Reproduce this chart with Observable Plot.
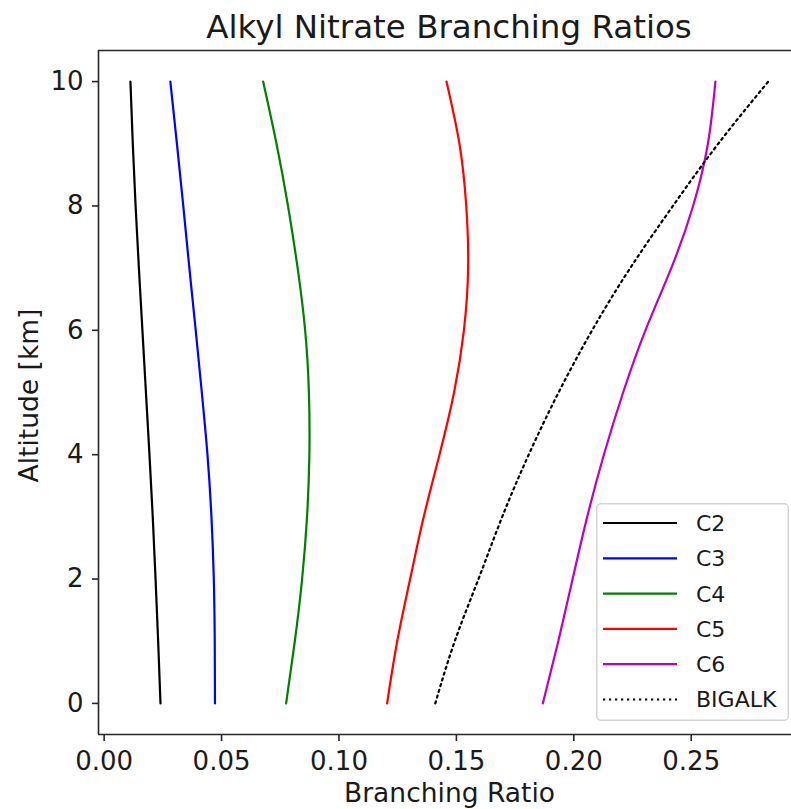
<!DOCTYPE html>
<html>
<head>
<meta charset="utf-8">
<script src="https://cdn.jsdelivr.net/npm/d3@7"></script>
<script src="https://cdn.jsdelivr.net/npm/@observablehq/plot@0.6"></script>
<style>
  html, body { margin: 0; padding: 0; background: #fff; }
  #wrap { position: relative; width: 791px; height: 809px; overflow: hidden; font-family: "DejaVu Sans", sans-serif; }
  #title { position: absolute; left: 98px; width: 702px; top: 11px; text-align: center; font-size: 32.5px; line-height: 1; color: #1a1a1a; white-space: nowrap; }
  #legend { position: absolute; left: 596px; top: 503px; }
</style>
</head>
<body>
<div id="wrap">
  <div id="chart"></div>
  <div id="title">Alkyl Nitrate Branching Ratios</div>
  <div id="legend"></div>
</div>
<script>
// ---- data ----
const altitude = [0, 1, 2, 3, 4, 5, 6, 7, 8, 9, 10];
const seriesNames = ["C2", "C3", "C4", "C5", "C6", "BIGALK"];
const seriesColors = ["#000000", "#0000ff", "#008000", "#ff0000", "#bf00bf", "#000000"];
const c2 = [0.0240, 0.0230, 0.0219, 0.0207, 0.0193, 0.0178, 0.0163, 0.0148, 0.0134, 0.0122, 0.0112];
const c3 = [0.0472, 0.0471, 0.0467, 0.0457, 0.0440, 0.0416, 0.0390, 0.0363, 0.0337, 0.0310, 0.0282];
const c4 = [0.0775, 0.0812, 0.0843, 0.0864, 0.0874, 0.0872, 0.0856, 0.0824, 0.0783, 0.0734, 0.0677];
const c5 = [0.1205, 0.1248, 0.1303, 0.1361, 0.1428, 0.1490, 0.1532, 0.1550, 0.1542, 0.1513, 0.1458];
const c6 = [0.1868, 0.1934, 0.1995, 0.2057, 0.2128, 0.2210, 0.2305, 0.2415, 0.2508, 0.2571, 0.2603];
const bigalk = [0.1410, 0.1493, 0.1594, 0.1695, 0.1808, 0.1935, 0.2078, 0.2240, 0.2422, 0.2615, 0.2828];
const xTicks = [0.00, 0.05, 0.10, 0.15, 0.20, 0.25];
const yTicks = [0, 2, 4, 6, 8, 10];
const xDomain = [-0.0024, 0.2927];
const yDomain = [-0.5, 10.5];

// ---- build table ----
const allValues = [c2, c3, c4, c5, c6, bigalk];
const rows = [];
seriesNames.forEach((name, i) => {
  altitude.forEach((a, j) => rows.push({series: name, alt: a, ratio: allValues[i][j]}));
});
const solid = rows.filter(d => d.series !== "BIGALK");
const dotted = rows.filter(d => d.series === "BIGALK");

const ink = "#262626";
const chart = Plot.plot({
  width: 791,
  height: 809,
  marginLeft: 98,
  marginRight: 0,
  marginTop: 50,
  marginBottom: 75,
  style: {fontFamily: '"DejaVu Sans", sans-serif', background: "white", color: "#1a1a1a"},
  x: {domain: xDomain},
  y: {domain: yDomain},
  color: {domain: seriesNames, range: seriesColors},
  marks: [
    Plot.line(solid, {x: "ratio", y: "alt", z: "series", stroke: "series", strokeWidth: 2.2, curve: "natural"}),
    Plot.line(dotted, {x: "ratio", y: "alt", stroke: "#000", strokeWidth: 2.2, strokeDasharray: "2.2,3.8", curve: "natural"}),
    Plot.ruleX([xDomain[0]], {stroke: ink, strokeWidth: 1.6}),
    Plot.ruleY(yDomain, {stroke: ink, strokeWidth: 1.6}),
    Plot.axisX({ticks: xTicks, tickFormat: d3.format(".2f"), tickSize: 7, tickPadding: 10, fontSize: 26, label: null, stroke: ink, strokeWidth: 1.6}),
    Plot.axisY({ticks: yTicks, tickFormat: d3.format("d"), tickSize: 6, tickPadding: 9, fontSize: 26, label: null, stroke: ink, strokeWidth: 1.6}),
    Plot.text(["Branching Ratio"], {text: d => d, frameAnchor: "bottom", textAnchor: "middle", lineAnchor: "middle", dx: 4.5, dy: 59, fontSize: 26.5}),
    Plot.text(["Altitude [km]"], {text: d => d, frameAnchor: "left", textAnchor: "middle", lineAnchor: "middle", rotate: -90, dx: -68.7, dy: 3, fontSize: 26.5})
  ]
});
document.getElementById("chart").appendChild(chart);

// ---- legend (inside plot, lower right) ----
const lw = 194, lh = 219;
const leg = d3.select("#legend").append("svg").attr("width", lw).attr("height", lh)
  .style("font-family", '"DejaVu Sans", sans-serif');
leg.append("rect").attr("x", 0.75).attr("y", 0.75).attr("width", lw - 2.5).attr("height", lh - 2.5)
  .attr("rx", 4).attr("fill", "rgba(255,255,255,0.8)").attr("stroke", "#d4d4d4").attr("stroke-width", 1.5);
seriesNames.forEach((name, i) => {
  const cy = 20 + i * 35.3;
  leg.append("line").attr("x1", 7).attr("x2", 81).attr("y1", cy).attr("y2", cy)
    .attr("stroke", seriesColors[i]).attr("stroke-width", 2.2)
    .attr("stroke-dasharray", name === "BIGALK" ? "2.2,3.8" : null);
  leg.append("text").attr("x", 100).attr("y", cy).attr("dy", "0.36em").attr("font-size", 22)
    .attr("fill", "#1a1a1a").text(name);
});
</script>
</body>
</html>
